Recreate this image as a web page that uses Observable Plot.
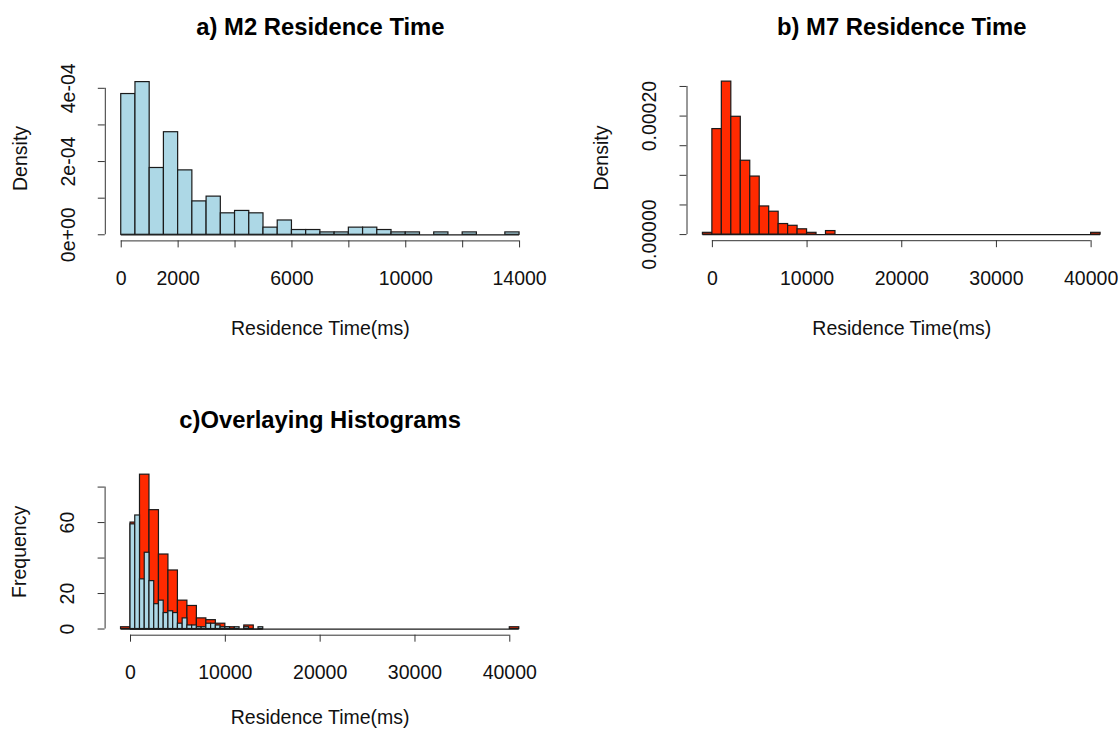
<!DOCTYPE html>
<html><head><meta charset="utf-8">
<script src="https://cdn.jsdelivr.net/npm/d3@7"></script>
<script src="https://cdn.jsdelivr.net/npm/@observablehq/plot@0.6"></script>
<style>
body{margin:0;background:#fff;}
#wrap{position:relative;width:1120px;height:731px;overflow:hidden;background:#fff;}
#wrap > svg{position:absolute;overflow:visible;}
</style></head><body><div id="wrap"></div>
<script>
// ---- data ----
const m2Breaks = [0,500,1000,1500,2000,2500,3000,3500,4000,4500,5000,5500,6000,6500,7000,7500,8000,8500,9000,9500,10000,10500,11000,11500,12000,12500,13000,13500,14000];
const m2Counts = [59,64,28,43,27,14,16,9,10,9,3,6,2,2,1,1,3,3,2,1,1,0,1,0,1,0,0,1];
const m7Breaks = [-1000,0,1000,2000,3000,4000,5000,6000,7000,8000,9000,10000,11000,12000,13000,14000,15000,16000,17000,18000,19000,20000,21000,22000,23000,24000,25000,26000,27000,28000,29000,30000,31000,32000,33000,34000,35000,36000,37000,38000,39000,40000,41000];
const m7Counts = [1,60,87,67,42,33,16,13,6,5,3,1,0,2,0,0,0,0,0,0,0,0,0,0,0,0,0,0,0,0,0,0,0,0,0,0,0,0,0,0,0,1];

const aXTicks = [0,2000,4000,6000,8000,10000,12000,14000];
const aXLabels = [0,2000,6000,10000,14000];
const aYTicks = [0,0.0001,0.0002,0.0003,0.0004];
const aYLabelVals = [0,0.0002,0.0004];
const aYLabelText = ["0e+00","2e-04","4e-04"];

const bXTicks = [0,10000,20000,30000,40000];
const bXLabels = [0,10000,20000,30000,40000];
const bYTicks = [0,0.00005,0.0001,0.00015,0.0002,0.00025];
const bYLabelVals = [0,0.0002];
const bYLabelText = ["0.00000","0.00020"];

const cXTicks = [0,10000,20000,30000,40000];
const cXLabels = [0,10000,20000,30000,40000];
const cYTicks = [0,20,40,60,80];
const cYLabelVals = [0,20,60];
const cYLabelText = ["0","20","60"];

const titles = ["a) M2 Residence Time","b) M7 Residence Time","c)Overlaying Histograms"];
const xTitle = "Residence Time(ms)";
const yTitles = ["Density","Density","Frequency"];

const M2_FILL = "#add8e6";
const M7_FILL = "#ff2a00";
const FONT = "'Liberation Sans', Arial, Helvetica, sans-serif";

function bins(breaks, counts, density) {
  const n = d3.sum(counts);
  return counts.map((c, i) => {
    const x1 = breaks[i], x2 = breaks[i + 1];
    return {x1, x2, v: density ? c / (n * (x2 - x1)) : c};
  });
}
function pad(lo, hi) { const r = hi - lo; return [lo - 0.04 * r, hi + 0.04 * r]; }

function panel(o) {
  let ymax = 0;
  for (const L of o.layers) ymax = Math.max(ymax, d3.max(L.data, d => d.v));
  const xDomain = pad(o.xRange[0], o.xRange[1]);
  const yDomain = pad(0, ymax);
  const marks = [];
  for (const L of o.layers) {
    marks.push(Plot.ruleY([0], {x1: L.data[0].x1, x2: L.data[L.data.length - 1].x2, stroke: "#1a1a1a", strokeWidth: 1.2}));
    marks.push(Plot.rectY(L.data, {x1: "x1", x2: "x2", y: "v", fill: L.fill, stroke: "#1a1a1a", strokeWidth: 1.2}));
  }
  // axes (R style: line from first to last tick)
  marks.push(Plot.ruleY([yDomain[0]], {x1: o.xTicks[0], x2: o.xTicks[o.xTicks.length - 1], stroke: "#333", strokeWidth: 1}));
  marks.push(Plot.ruleX([xDomain[0]], {y1: o.yTicks[0], y2: o.yTicks[o.yTicks.length - 1], stroke: "#333", strokeWidth: 1}));
  marks.push(Plot.axisX({ticks: o.xTicks, tickSize: 7, tickFormat: () => "", label: null, stroke: "#333"}));
  marks.push(Plot.axisY({ticks: o.yTicks, tickSize: 7, tickFormat: () => "", label: null, stroke: "#333", anchor: "left"}));
  marks.push(Plot.text(o.xLabels, {x: d => d, text: d => String(d), frameAnchor: "bottom", dy: 38, fontSize: 19.5, lineAnchor: "middle", fill: "#111"}));
  marks.push(Plot.text(o.yLabelVals, {y: d => d, text: (d, i) => o.yLabelText[i], frameAnchor: "left", dx: -37, rotate: -90, textAnchor: "middle", lineAnchor: "middle", fontSize: 19.5, fill: "#111"}));
  marks.push(Plot.text([o.title], {text: d => d, frameAnchor: "top", dy: -48.5, fontSize: 23.8, fontWeight: "bold", textAnchor: "middle", lineAnchor: "middle", fill: "#000"}));
  marks.push(Plot.text([xTitle], {text: d => d, frameAnchor: "bottom", dy: o.xTitleDy, fontSize: 19.5, textAnchor: "middle", lineAnchor: "middle", fill: "#111"}));
  marks.push(Plot.text([o.yTitle], {text: d => d, frameAnchor: "left", dx: -85, rotate: -90, fontSize: 19.5, textAnchor: "middle", lineAnchor: "middle", fill: "#111"}));

  const svg = Plot.plot({
    width: o.width, height: o.height,
    marginLeft: o.m[0], marginRight: o.m[1], marginTop: o.m[2], marginBottom: o.m[3],
    x: {type: "linear", domain: xDomain},
    y: {type: "linear", domain: yDomain},
    style: {fontFamily: FONT, fontSize: "19.5px", color: "#111", background: "transparent", overflow: "visible"},
    marks
  });
  svg.style.left = o.left + "px";
  svg.style.top = o.top + "px";
  document.getElementById("wrap").appendChild(svg);
}

panel({
  left: 0, top: 0, width: 560, height: 365, m: [104.8, 25, 75.5, 124.6], xTitleDy: 88,
  xRange: [m2Breaks[0], m2Breaks[m2Breaks.length - 1]],
  layers: [{data: bins(m2Breaks, m2Counts, true), fill: M2_FILL}],
  xTicks: aXTicks, xLabels: aXLabels, yTicks: aYTicks, yLabelVals: aYLabelVals, yLabelText: aYLabelText,
  title: titles[0], yTitle: yTitles[0]
});
panel({
  left: 560, top: 0, width: 560, height: 365, m: [126.5, 4, 75, 124.8], xTitleDy: 88,
  xRange: [m7Breaks[0], m7Breaks[m7Breaks.length - 1]],
  layers: [{data: bins(m7Breaks, m7Counts, true), fill: M7_FILL}],
  xTicks: bXTicks, xLabels: bXLabels, yTicks: bYTicks, yLabelVals: bYLabelVals, yLabelText: bYLabelText,
  title: titles[1], yTitle: yTitles[1]
});
panel({
  left: 0, top: 393, width: 560, height: 338, m: [104.6, 25.3, 75, 96.3], xTitleDy: 83,
  xRange: [m7Breaks[0], m7Breaks[m7Breaks.length - 1]],
  layers: [{data: bins(m7Breaks, m7Counts, false), fill: M7_FILL}, {data: bins(m2Breaks, m2Counts, false), fill: M2_FILL}],
  xTicks: cXTicks, xLabels: cXLabels, yTicks: cYTicks, yLabelVals: cYLabelVals, yLabelText: cYLabelText,
  title: titles[2], yTitle: yTitles[2]
});
</script></body></html>
